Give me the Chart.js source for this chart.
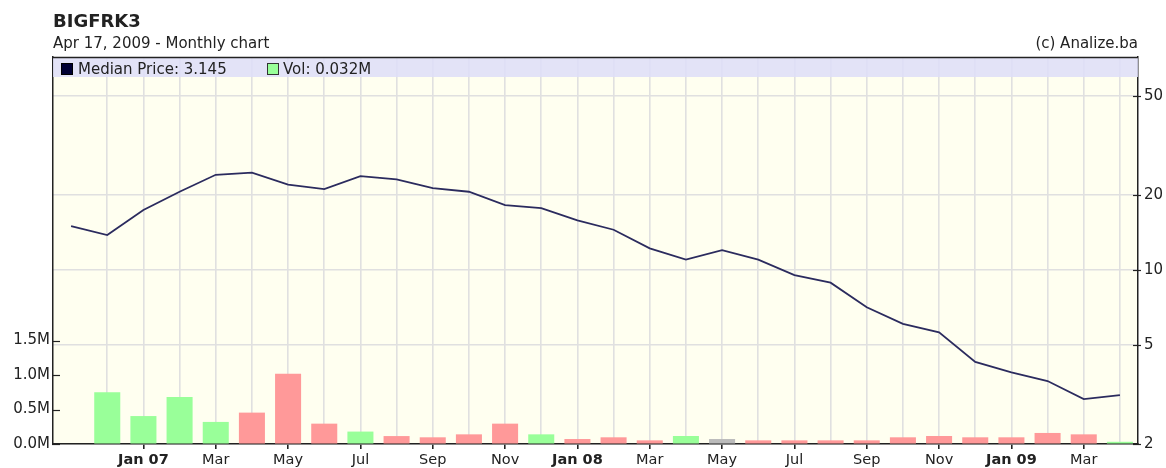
<!DOCTYPE html>
<html><head><meta charset="utf-8">
<script src="https://cdn.jsdelivr.net/npm/chart.js@4/dist/chart.umd.min.js"></script>
<style>html,body{margin:0;padding:0;background:#fff;overflow:hidden}canvas{display:block}</style>
</head><body>
<canvas id="c" width="1166" height="468"></canvas>
<script>
const categories = ['Nov 06','Dec 06','Jan 07','Feb 07','Mar 07','Apr 07','May 07','Jun 07','Jul 07','Aug 07','Sep 07','Oct 07','Nov 07','Dec 07','Jan 08','Feb 08','Mar 08','Apr 08','May 08','Jun 08','Jul 08','Aug 08','Sep 08','Oct 08','Nov 08','Dec 08','Jan 09','Feb 09','Mar 09','Apr 09'];
const tickLabels = ['','','Jan 07','','Mar','','May','','Jul','','Sep','','Nov','','Jan 08','','Mar','','May','','Jul','','Sep','','Nov','','Jan 09','','Mar',''];
const medianPrice = [15.0,13.8,17.4,20.6,24.1,24.6,22.0,21.1,23.8,23.1,21.3,20.6,18.2,17.7,15.8,14.5,12.2,11.0,12.0,11.0,9.54,8.89,7.08,6.07,5.62,4.27,3.88,3.58,3.03,3.145];
const volumeM = [null,0.75,0.405,0.68,0.32,0.455,1.02,0.295,0.18,0.115,0.097,0.14,0.295,0.14,0.072,0.097,0.053,0.116,0.072,0.053,0.053,0.053,0.053,0.097,0.116,0.097,0.097,0.16,0.14,0.032];
const volumeDir = ['none','up','up','up','up','down','down','down','up','down','down','down','down','up','down','down','down','up','flat','down','down','down','down','down','down','down','down','down','down','up'];
const priceTicks = [2,5,10,20,50];
const volTicks = [0,0.5,1.0,1.5];

const FONT = '"DejaVu Sans", Verdana, sans-serif';
const dirColor = {up:'#99FF99', down:'#FF9999', flat:'#BBBBBB', none:'#BBBBBB'};

const decor = {
  id:'decor',
  beforeDraw(chart){
    const {ctx, chartArea:a} = chart;
    ctx.save();
    ctx.fillStyle='#fff'; ctx.fillRect(0,0,chart.width,chart.height);
    ctx.fillStyle='#FFFFF0'; ctx.fillRect(a.left,a.top,a.right-a.left,a.bottom-a.top);
    ctx.restore();
  },
  beforeDatasetsDraw(chart){
    const {ctx, chartArea:a} = chart;
    ctx.save();
    ctx.fillStyle='rgba(222,222,248,0.85)';
    ctx.fillRect(a.left,a.top,a.right-a.left,20);
    ctx.restore();
  },
  afterDraw(chart){
    const {ctx, chartArea:a} = chart;
    ctx.save();
    // top border
    ctx.strokeStyle='#222'; ctx.lineWidth=1.5;
    ctx.beginPath(); ctx.moveTo(a.left,a.top+0.5); ctx.lineTo(a.right,a.top+0.5); ctx.stroke();
    // y tick marks
    ctx.lineWidth=1.2;
    const vs = chart.scales.vol, ps = chart.scales.price;
    volTicks.forEach(v=>{const y=Math.round(vs.getPixelForValue(v))+0.5; ctx.beginPath(); ctx.moveTo(a.left-1,y); ctx.lineTo(a.left+7,y); ctx.stroke();});
    priceTicks.forEach(v=>{const y=Math.round(ps.getPixelForValue(v))+0.5; ctx.beginPath(); ctx.moveTo(a.right-5,y); ctx.lineTo(a.right+3,y); ctx.stroke();});
    // titles
    ctx.fillStyle='#222';
    ctx.textBaseline='alphabetic';
    ctx.font='bold 18px '+FONT;
    ctx.textAlign='left';
    ctx.fillText('BIGFRK3', a.left, 27);
    ctx.font='15px '+FONT;
    ctx.fillText('Apr 17, 2009 - Monthly chart', a.left, 48);
    ctx.textAlign='right';
    ctx.fillText('(c) Analize.ba', a.right, 48);
    // legend
    ctx.textAlign='left';
    ctx.lineWidth=1;
    ctx.fillStyle='#000033'; ctx.fillRect(61.5,63.5,11,11);
    ctx.strokeStyle='#000'; ctx.strokeRect(61.5,63.5,11,11);
    ctx.fillStyle='#222';
    ctx.fillText('Median Price: '+medianPrice[medianPrice.length-1].toFixed(3), 78, 74);
    ctx.fillStyle='#99FF99'; ctx.fillRect(267.5,63.5,11,11);
    ctx.strokeStyle='#333'; ctx.strokeRect(267.5,63.5,11,11);
    ctx.fillStyle='#222';
    ctx.fillText('Vol: '+volumeM[volumeM.length-1].toFixed(3)+'M', 283, 74);
    ctx.restore();
  }
};

new Chart(document.getElementById('c'), {
  data:{
    labels: categories,
    datasets:[
      {type:'line', data: medianPrice, yAxisID:'price', borderColor:'#2b2b5e', borderWidth:1.8, pointRadius:0, tension:0, fill:false, order:0},
      {type:'bar', data: volumeM, yAxisID:'vol', backgroundColor: volumeDir.map(d=>dirColor[d]), borderWidth:0, categoryPercentage:1, barPercentage:0.72, order:1}
    ]
  },
  options:{
    responsive:false, animation:false, devicePixelRatio:1,
    layout:{padding:{top:57,left:0,right:0,bottom:0}},
    plugins:{legend:{display:false}, tooltip:{enabled:false}},
    scales:{
      x:{
        type:'category', offset:true,
        grid:{offset:false, color:c=>c.index===0?'rgba(0,0,0,0)':'#e0e0e0', lineWidth:1.6, drawTicks:true, tickLength:5, tickColor:c=>tickLabels[c.index]?'#222':'rgba(0,0,0,0)'},
        border:{display:true,color:'#222',width:1.5},
        ticks:{autoSkip:false, maxRotation:0, minRotation:0, padding:3, color:'#222',
          callback:(v,i)=>tickLabels[i],
          font:c=>({family:FONT, size:14.5, weight:(tickLabels[c.index]||'').startsWith('Jan')?'bold':'normal'})},
        afterFit:s=>{s.height=24;}
      },
      vol:{
        type:'linear', position:'left', min:0, max:5.61,
        grid:{drawOnChartArea:false, drawTicks:false},
        border:{display:true,color:'#222',width:1.5},
        afterBuildTicks:s=>{s.ticks=volTicks.map(v=>({value:v}));},
        ticks:{padding:3, color:'#222', font:{family:FONT,size:15}, callback:v=>v.toFixed(1)+'M'},
        afterFit:s=>{s.width=53;}
      },
      price:{
        type:'logarithmic', position:'right', min:2, max:71.6,
        grid:{color:'#e0e0e0', lineWidth:1.6, drawTicks:false},
        border:{display:true,color:'#222',width:1.5},
        afterBuildTicks:s=>{s.ticks=priceTicks.map(v=>({value:v}));},
        ticks:{padding:6, color:'#222', font:{family:FONT,size:15}, callback:v=>String(v)},
        afterFit:s=>{s.width=28;}
      }
    }
  },
  plugins:[decor]
});
</script></body></html>
